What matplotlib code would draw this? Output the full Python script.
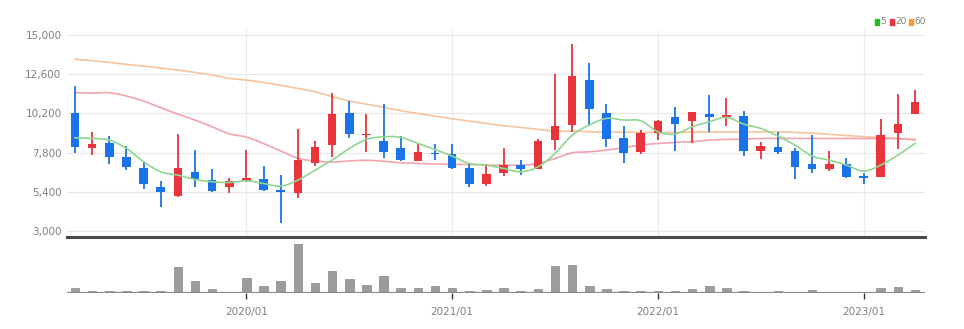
import matplotlib
matplotlib.use("Agg")
import matplotlib.pyplot as plt
import numpy as np
import pandas as pd
from matplotlib.patches import Rectangle
from matplotlib.ticker import FuncFormatter

months = pd.date_range("2019-03-01", periods=50, freq="MS")

opens = [10240, 8094, 8360, 7543, 6869, 5705, 5153, 6583, 6133, 5664,
         6052, 6174, 5480, 5337, 7175, 8258, 10240, 8851, 8503, 8094,
         7298, 7788, 7727, 6828, 5847, 6522, 7053, 6767, 8564, 9484,
         12242, 10199, 8707, 7808, 9014, 9995, 9709, 10138, 9954, 10036,
         7911, 8156, 7890, 7073, 6767, 7114, 6358, 6276, 9014, 10138]
closes = [8156, 8318, 7502, 6930, 5868, 5378, 6828, 6154, 5439, 6052,
          6215, 5500, 5357, 7339, 8156, 10138, 8932, 8953, 7808, 7339,
          7808, 7706, 6869, 5847, 6460, 7032, 6767, 8503, 9443, 12487,
          10465, 8646, 7747, 8973, 9729, 9566, 10260, 9954, 10076, 7890,
          8197, 7850, 6910, 6767, 7073, 6317, 6256, 8892, 9525, 10914]
highs = [11874, 9034, 8810, 8197, 7277, 6072, 8932, 7952, 6767, 6215,
         7952, 6971, 6419, 9239, 8503, 11425, 10955, 10158, 10771, 8810,
         8319, 8319, 8299, 7134, 7073, 8054, 7339, 8605, 12589, 14428,
         13263, 10771, 9423, 9177, 9790, 10567, 10260, 11323, 11118, 10342,
         8462, 9075, 8095, 8871, 7890, 7441, 6522, 9852, 11363, 11629]
lows = [7747, 7645, 7093, 6726, 5541, 4479, 5100, 5705, 5400, 5296,
        6011, 5418, 3498, 5030, 6971, 7502, 8667, 7849, 7441, 7298,
        7298, 7339, 6787, 5705, 5745, 6378, 6419, 6767, 7952, 9075,
        9484, 8156, 7175, 7686, 8564, 7911, 8401, 9075, 9423, 7584,
        7400, 7706, 6174, 6562, 6685, 6215, 5868, 6276, 8013, 10138]
volumes = [16, 7, 6, 6, 5, 6, 79, 35, 11, 3,
           46, 21, 35, 146, 30, 65, 42, 25, 51, 16,
           15, 20, 16, 7, 8, 16, 6, 13, 82, 84,
           21, 11, 7, 5, 6, 7, 11, 20, 16, 6,
           3, 7, 4, 8, 3, 3, 3, 16, 17, 8]
ma5 = [8708, 8667, 8565, 8054, 7237, 6624, 6419, 6150, 6011, 5970,
       6072, 5909, 5745, 6113, 6726, 7339, 8054, 8605, 8769, 8728,
       8360, 7993, 7584, 7134, 7032, 6828, 6624, 6930, 7747, 8871,
       9484, 9893, 9790, 9750, 9075, 8932, 9382, 9688, 9954, 9545,
       9280, 8810, 8258, 7584, 7339, 7032, 6665, 7032, 7645, 8360]
ma20 = [11466, 11445, 11466, 11261, 10955, 10546, 10158, 9790, 9382, 8950,
        8750, 8350, 7900, 7450, 7280, 7220, 7290, 7330, 7270, 7175,
        7134, 7093, 7073, 7073, 7032, 7032, 7032, 7134, 7441, 7788,
        7849, 7952, 8115, 8258, 8360, 8422, 8462, 8565, 8605, 8626,
        8667, 8667, 8667, 8667, 8667, 8667, 8667, 8667, 8646, 8605]
ma60 = [13529, 13430, 13325, 13202, 13100, 12977, 12855, 12712, 12548, 12344,
        12242, 12099, 11915, 11731, 11527, 11220, 10955, 10771, 10567, 10362,
        10199, 10036, 9872, 9729, 9586, 9443, 9341, 9218, 9116, 9116,
        9075, 9055, 9055, 9034, 9034, 9034, 9055, 9055, 9055, 9055,
        9075, 9075, 9034, 8993, 8912, 8850, 8769, 8728, 8667, 8565]
price_ticks = [3000, 5400, 7800, 10200, 12600, 15000]
legend_labels = ["5", "20", "60"]

UP = "#e8343a"
DOWN = "#1a73e8"
C5 = "#8fd68f"
C20 = "#f2a3ad"
C60 = "#f7c49c"

plt.rcParams['font.family'] = ['Liberation Sans Narrow', 'DejaVu Sans']


def smooth(xs, ys, n=12):
    """Catmull-Rom spline through the given points (drawing style only)."""
    xs = np.asarray(xs, float); ys = np.asarray(ys, float)
    px = np.concatenate([[xs[0]], xs, [xs[-1]]])
    py = np.concatenate([[ys[0]], ys, [ys[-1]]])
    outx, outy = [], []
    t = np.linspace(0, 1, n, endpoint=False)
    for i in range(1, len(px) - 2):
        for arr, out in ((px, outx), (py, outy)):
            p0, p1, p2, p3 = arr[i - 1], arr[i], arr[i + 1], arr[i + 2]
            out.extend(0.5 * ((2 * p1) + (-p0 + p2) * t +
                              (2 * p0 - 5 * p1 + 4 * p2 - p3) * t ** 2 +
                              (-p0 + 3 * p1 - 3 * p2 + p3) * t ** 3))
    outx.append(xs[-1]); outy.append(ys[-1])
    return np.array(outx), np.array(outy)


W, H = 964, 329
fig = plt.figure(figsize=(W / 100, H / 100), dpi=100)

L, R = 67 / W, 925 / W
ax = fig.add_axes([L, (H - 237) / H, R - L, (237 - 30) / H])
axv = fig.add_axes([L, (H - 293) / H, R - L, (293 - 240) / H], sharex=ax)

x = np.arange(len(months))
o = np.array(opens, float); c = np.array(closes, float)
hi = np.array(highs, float); lo = np.array(lows, float)
up = c >= o
cols = [UP if u else DOWN for u in up]

year_idx = [i for i, m in enumerate(months) if m.month == 1]
for i in year_idx:
    ax.axvline(i, color="#ececec", lw=0.9, zorder=0)

ax.vlines(x, lo, hi, colors=cols, lw=1.3, zorder=3)
body_h = np.maximum(np.abs(c - o), 70)
ax.bar(x, body_h, bottom=np.minimum(o, c), width=0.5, color=cols, zorder=4, linewidth=0)

for vals, col, z in ((ma60, C60, 2), (ma20, C20, 2), (ma5, C5, 5)):
    sx, sy = smooth(x, vals)
    ax.plot(sx, sy, color=col, lw=1.2, zorder=z)

ax.set_xlim(-0.47, 49.58)
ax.set_ylim(2630, 15308)
ax.set_yticks(price_ticks)
ax.yaxis.set_major_formatter(FuncFormatter(lambda v, p: f"{int(v):,}"))
ax.tick_params(axis="y", length=0, pad=4, labelsize=7.5, labelcolor="#808080")
ax.tick_params(axis="x", length=0, labelbottom=False)
ax.grid(axis="y", color="#e8e8e8", lw=0.9)
ax.set_axisbelow(True)
for s in ["top", "right", "left"]:
    ax.spines[s].set_visible(False)
ax.spines["bottom"].set_color("#4a4a4a")
ax.spines["bottom"].set_linewidth(2.2)

axv.bar(x, volumes, width=0.5, color="#9c9c9c", edgecolor="#888888", linewidth=0.5, zorder=3)
axv.axhline(0, color="#8a8a8a", lw=1.6, zorder=4)
axv.set_ylim(0, 159)
axv.set_yticks([])
for s in ["top", "right", "left", "bottom"]:
    axv.spines[s].set_visible(False)
axv.set_xticks(year_idx)
axv.set_xticklabels([months[i].strftime("%Y/%m") for i in year_idx])
axv.tick_params(axis="x", length=4, width=1, color="#333333", direction="out",
                labelsize=7.5, labelcolor="#808080", pad=6)

# legend
ly = (H - 22) / H
sq_w, sq_h = 4 / W, 6 / H
legend_colors = ["#22bb22", "#ee3344", "#ff9933"]
xpos = 875 / W
for lab, col in zip(legend_labels, legend_colors):
    fig.add_artist(Rectangle((xpos, ly - sq_h / 2), sq_w, sq_h, color=col,
                             transform=fig.transFigure))
    fig.text(xpos + sq_w + 1.5 / W, ly, lab, fontsize=6.5, color="#808080",
             va="center", ha="left")
    xpos += (sq_w + 1.5 / W + (len(lab) * 5.0) / W + 4 / W)

fig.savefig("out.png", dpi=100, facecolor="white")
